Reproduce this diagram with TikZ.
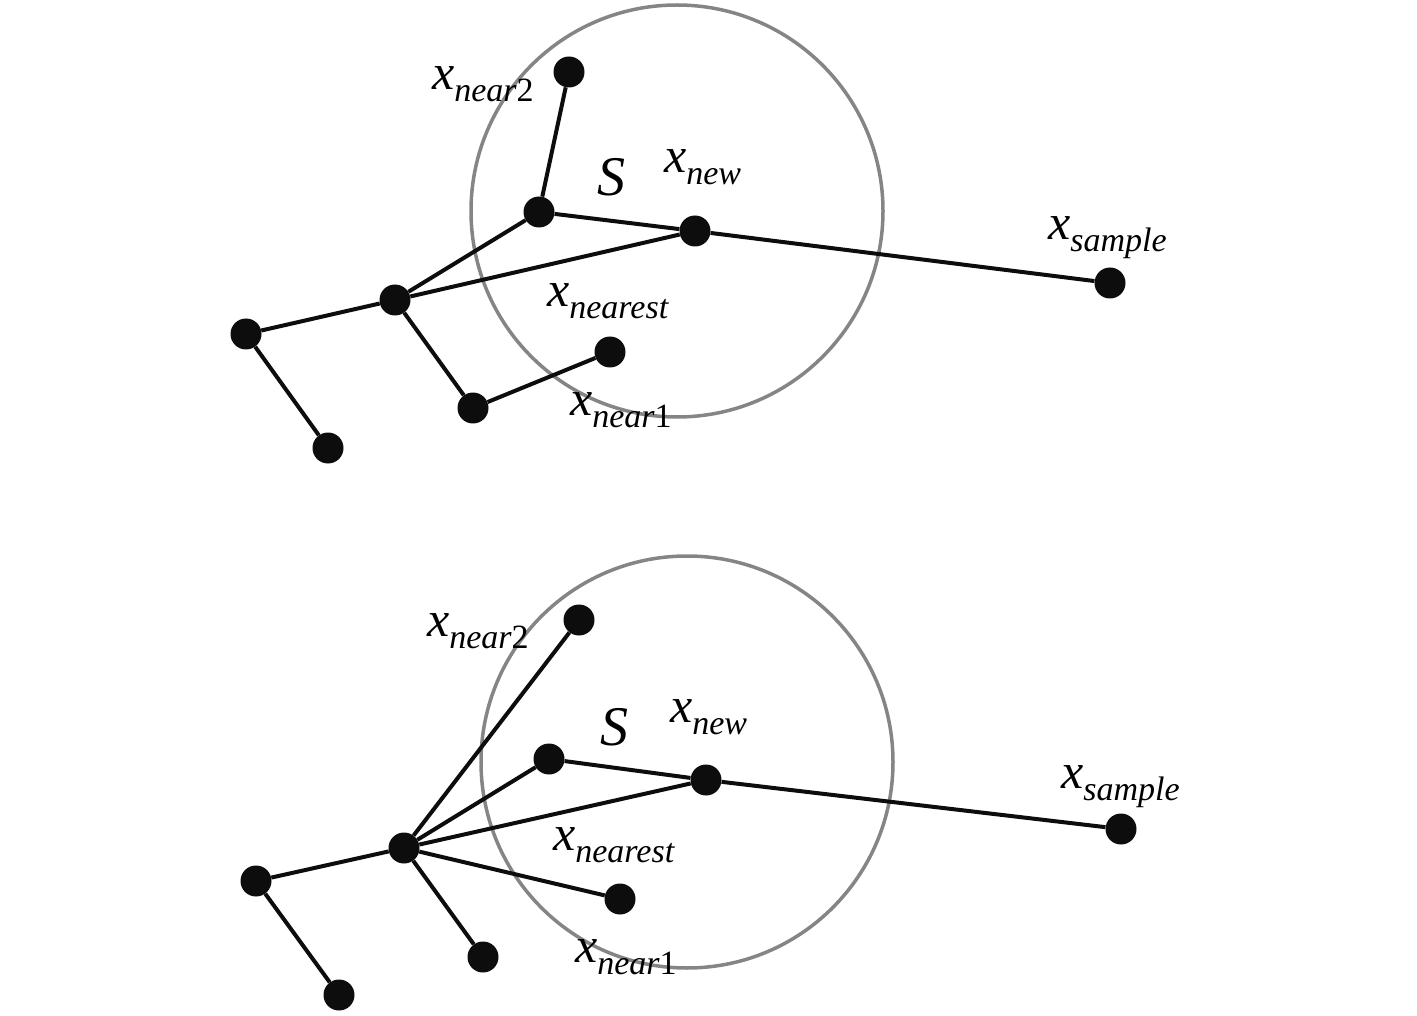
\documentclass[tikz,border=0pt]{standalone}
\usepackage{fontspec}
\newfontfamily\lit{Liberation Serif Italic}
\newfontfamily\lrm{Liberation Serif}
\newcommand{\lbl}[2]{{\lit\fontsize{50}{50}\selectfont x}\raisebox{-12pt}{\fontsize{34}{34}\selectfont{\lit #1}{\lrm #2}}}
\begin{document}
\begin{tikzpicture}[x=1pt,y=-1pt,
  dot/.style={circle,fill=black!95,inner sep=0pt,minimum size=31pt},
  edge/.style={line width=4pt,black!95},
  ring/.style={line width=3.5pt,draw=black!48},
  lab/.style={anchor=base west,inner sep=0pt}]
\useasboundingbox (0,0) rectangle (1417,1016);
% ---------------- top panel ----------------
\draw[ring] (677,211) circle[radius=206];
\node[dot] (tn2) at (569,72) {};
\node[dot] (tA) at (539,212) {};
\node[dot] (tnew) at (695,231) {};
\node[dot] (tsam) at (1110,283) {};
\node[dot] (tnst) at (395,300) {};
\node[dot] (troot) at (246,334) {};
\node[dot] (tleaf) at (328,448) {};
\node[dot] (tmid) at (473,408) {};
\node[dot] (tn1) at (610,352) {};
\draw[edge] (tn2) -- (tA);
\draw[edge] (tA) -- (tnew);
\draw[edge] (tnew) -- (tsam);
\draw[edge] (tA) -- (tnst);
\draw[edge] (tnst) -- (tnew);
\draw[edge] (tnst) -- (troot);
\draw[edge] (troot) -- (tleaf);
\draw[edge] (tnst) -- (tmid);
\draw[edge] (tmid) -- (tn1);
\node[lab] (ltn2) at (432,90) {\lbl{near}{2}};
\node[lab] (ltS) at (597,196) {\lit\fontsize{56}{56}\selectfont S};
\node[lab] (ltnew) at (664,173) {\lbl{new}{}};
\node[lab] (ltsam) at (1048,240) {\lbl{sample}{}};
\node[lab] (ltnst) at (547,307) {\lbl{nearest}{}};
\node[lab] (ltn1) at (570,415) {\lbl{near}{1}};
% ---------------- bottom panel ----------------
\draw[ring] (687,762) circle[radius=206];
\node[dot] (bn2) at (579,620) {};
\node[dot] (bA) at (549,759) {};
\node[dot] (bnew) at (706,780) {};
\node[dot] (bsam) at (1121,829) {};
\node[dot] (bnst) at (404,848) {};
\node[dot] (broot) at (256,881) {};
\node[dot] (bleaf) at (339,995) {};
\node[dot] (bmid) at (483,957) {};
\node[dot] (bn1) at (620,899) {};
\draw[edge] (bnst) -- (bn2);
\draw[edge] (bnst) -- (bA);
\draw[edge] (bA) -- (bnew);
\draw[edge] (bnew) -- (bsam);
\draw[edge] (bnst) -- (bnew);
\draw[edge] (bnst) -- (broot);
\draw[edge] (broot) -- (bleaf);
\draw[edge] (bnst) -- (bmid);
\draw[edge] (bnst) -- (bn1);
\node[lab] (lbn2) at (427,636) {\lbl{near}{2}};
\node[lab] (lbS) at (600,745) {\lit\fontsize{56}{56}\selectfont S};
\node[lab] (lbnew) at (670,722) {\lbl{new}{}};
\node[lab] (lbsam) at (1061,788) {\lbl{sample}{}};
\node[lab] (lbnst) at (553,850) {\lbl{nearest}{}};
\node[lab] (lbn1) at (575,962) {\lbl{near}{1}};
\end{tikzpicture}
\end{document}
